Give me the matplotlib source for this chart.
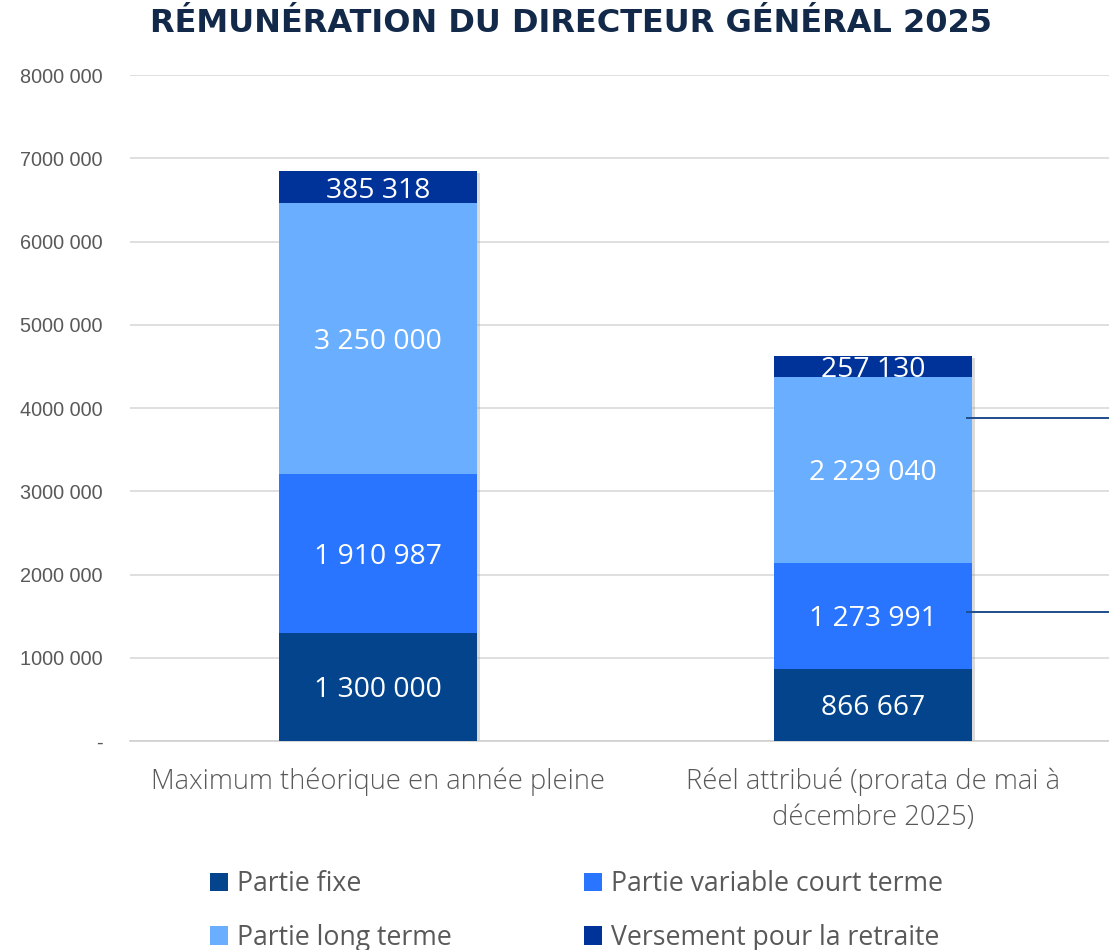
import matplotlib
matplotlib.use("Agg")
import matplotlib.pyplot as plt
import matplotlib.patheffects as pe
from matplotlib.patches import Patch
from matplotlib.transforms import offset_copy

# Data
categories = ["Maximum théorique en année pleine",
              "Réel attribué (prorata de mai à\ndécembre 2025)"]
series_names = ["Partie fixe", "Partie variable court terme",
                "Partie long terme", "Versement pour la retraite"]
partie_fixe = [1300000, 866667]
variable_court_terme = [1910987, 1273991]
long_terme = [3250000, 2229040]
retraite = [385318, 257130]
ytick_values = [0, 1000000, 2000000, 3000000, 4000000, 5000000, 6000000, 7000000, 8000000]
ytick_labels = ["-", "1000 000", "2000 000", "3000 000", "4000 000",
                "5000 000", "6000 000", "7000 000", "8000 000"]
leader_levels = [3880000, 1550000]

colors = ["#03448C", "#2975FF", "#6AAEFF", "#003399"]
series = [partie_fixe, variable_court_terme, long_terme, retraite]


def fmt(v):
    return f"{v:,}".replace(",", " ")


fig = plt.figure(figsize=(11.09, 9.5), dpi=100)
ax = fig.add_axes([130 / 1109, 209 / 950, 979 / 1109, 666 / 950])

x = list(range(len(categories)))
bar_width = 0.4

# soft drop shadow behind each full stack
totals = [sum(v) for v in zip(*series)]
ax.bar(x, totals, width=bar_width, color="none", zorder=2,
       path_effects=[pe.SimplePatchShadow(offset=(2.5, -1.5),
                                          shadow_rgbFace="#9A9A9A", alpha=0.35)])

label_tf = offset_copy(ax.transData, fig=fig, x=0, y=-2.5, units="points")
bottoms = [0] * len(categories)
for vals, col in zip(series, colors):
    ax.bar(x, vals, width=bar_width, bottom=bottoms, color=col, zorder=3)
    for xi, v, b in zip(x, vals, bottoms):
        ax.text(xi, b + v / 2, fmt(v), ha="center", va="center", color="white",
                fontsize=20.3, family=["Open Sans", "DejaVu Sans"], zorder=5,
                transform=label_tf)
    bottoms = [b + v for b, v in zip(bottoms, vals)]

ax.set_xlim(-0.501, 1.477)
ax.set_ylim(0, 8000000)
ax.set_yticks(ytick_values)
ax.set_yticklabels(ytick_labels, fontsize=14.3, color="#595959",
                   family=["Liberation Sans", "DejaVu Sans"])
ax.yaxis.grid(True, color="#D9D9D9", linewidth=1.2, zorder=0)
ax.set_axisbelow(True)
ax.tick_params(axis="y", length=0, pad=19.5)
ax.tick_params(axis="x", length=0, pad=19)
ax.set_xticks(x)
ax.set_xticklabels(categories, fontsize=19.7, color="#595959",
                   family=["Open Sans", "DejaVu Sans"], fontweight="light",
                   linespacing=1.4)
for s in ["top", "right", "left"]:
    ax.spines[s].set_visible(False)
ax.spines["bottom"].set_color("#D0D0D0")
ax.spines["bottom"].set_linewidth(1.2)

# Leader lines at the right edge
for lvl in leader_levels:
    ax.plot([1.19, 1.50], [lvl, lvl], color="#1F4E8C", linewidth=1.4,
            clip_on=False, zorder=4)

fig.text(0.515, 0.975, "RÉMUNÉRATION DU DIRECTEUR GÉNÉRAL 2025", ha="center",
         va="center", fontsize=23, fontweight="bold", color="#12294A",
         family=["DejaVu Sans"])

# legend laid out row by row: fixe / variable, long terme / retraite
order = [0, 2, 1, 3]
handles = [Patch(facecolor=colors[i]) for i in order]
labels = [series_names[i] for i in order]
leg = fig.legend(handles, labels, loc="center left", ncol=2,
                 bbox_to_anchor=(186 / 1109, 1 - 911 / 950), frameon=False,
                 prop={"family": ["Open Sans", "DejaVu Sans"], "size": 19.2},
                 handlelength=0.68, handleheight=0.68, handletextpad=0.34,
                 columnspacing=4.95, labelspacing=0.97)
for t in leg.get_texts():
    t.set_color("#595959")

fig.savefig("out.png", dpi=100)
